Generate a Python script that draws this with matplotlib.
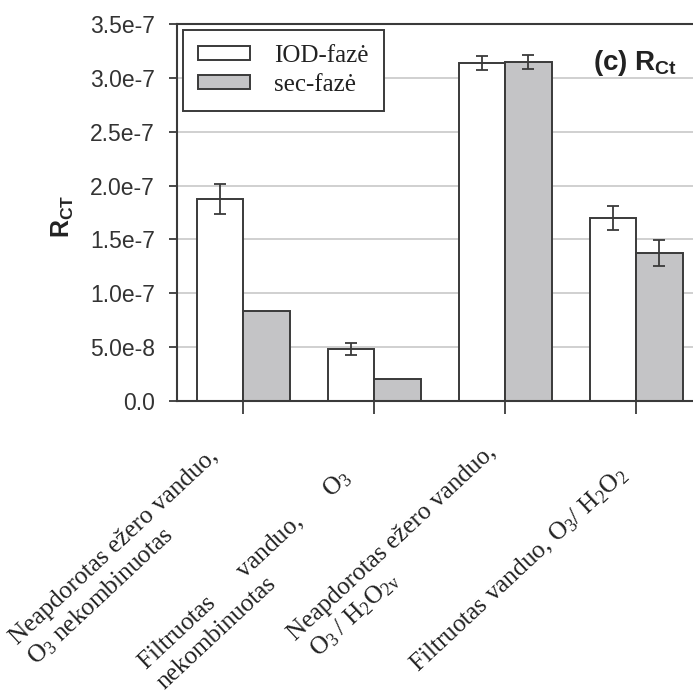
import matplotlib.pyplot as plt
import numpy as np
from matplotlib.transforms import ScaledTranslation

plt.rcParams['font.family'] = 'Liberation Sans'

# Duomenys
kategorijos = [
    "Neapdorotas ežero vanduo,\n$\\mathregular{O_3}$ nekombinuotas",
    "Filtruotas      vanduo,      $\\mathregular{O_3}$\nnekombinuotas",
    "Neapdorotas ežero vanduo,\n $\\mathregular{O_3\\,/\\;H_2O_{2v}}$",
    "Filtruotas vanduo, $\\mathregular{O_3/\\;H_2O_2}$",
]
iod_faze = [1.875e-7, 0.483e-7, 3.138e-7, 1.70e-7]
iod_err = [1.4e-8, 0.6e-8, 0.65e-8, 1.1e-8]
sec_faze = [0.836e-7, 0.204e-7, 3.147e-7, 1.374e-7]
sec_err = [0, 0, 0.65e-8, 1.2e-8]
y_ticks = [0.0, 5.0e-8, 1.0e-7, 1.5e-7, 2.0e-7, 2.5e-7, 3.0e-7, 3.5e-7]
y_tick_labels = ["0.0", "5.0e-8", "1.0e-7", "1.5e-7", "2.0e-7", "2.5e-7", "3.0e-7", "3.5e-7"]

# užrašų poslinkiai nuo padalos (px)
poslinkiai = [(-36, -44), (-34, -64), (-20, -40), (-20, -62)]

krastas = '#3a3a3a'
pilka = '#c4c4c6'

fig = plt.figure(figsize=(6.93, 6.93), dpi=100)
ax = fig.add_axes([177/693, (693-401)/693, 1 - 177/693, (401-24)/693])

x = np.arange(len(kategorijos))
w = 0.355
ax.bar(x - w/2, iod_faze, w, color='white', edgecolor=krastas, linewidth=1.4,
       label='IOD-fazė', zorder=2)
ax.bar(x + w/2, sec_faze, w, color=pilka, edgecolor=krastas, linewidth=1.4,
       label='sec-fazė', zorder=2)

# Paklaidos
ax.errorbar(x - w/2, iod_faze, yerr=iod_err, fmt='none', ecolor=krastas,
            elinewidth=1.3, capsize=4.5, capthick=1.3, zorder=3)
sec_idx = [i for i, e in enumerate(sec_err) if e > 0]
ax.errorbar(x[sec_idx] + w/2, [sec_faze[i] for i in sec_idx],
            yerr=[sec_err[i] for i in sec_idx], fmt='none', ecolor=krastas,
            elinewidth=1.3, capsize=4.5, capthick=1.3, zorder=3)

ax.set_xlim(-0.504, -0.504 + 516/131)
ax.set_ylim(0, 3.5e-7)
ax.set_yticks(y_ticks)
ax.set_yticklabels(y_tick_labels, fontsize=16.5, color='#333333')
ax.yaxis.grid(True, color='#c8c8c8', linewidth=1.2, zorder=0)
ax.set_axisbelow(True)

ax.set_xticks(x)
ax.set_xticklabels([])
for xi, tekstas, (dx, dy) in zip(x, kategorijos, poslinkiai):
    tr = ax.get_xaxis_transform() + ScaledTranslation(dx/100, dy/100, fig.dpi_scale_trans)
    ax.text(xi, 0, tekstas, transform=tr, rotation=43, ha='right', va='top',
            rotation_mode='anchor', multialignment='left',
            family='Liberation Serif', fontsize=18.2, color='#222222')

ax.tick_params(axis='x', length=9, width=1.3, color=krastas, direction='out')
ax.tick_params(axis='y', length=6, width=1.3, color=krastas, direction='out', pad=10)

for s in ['left', 'bottom', 'top']:
    ax.spines[s].set_color(krastas)
    ax.spines[s].set_linewidth(1.5)
ax.spines['right'].set_visible(False)

ax.set_ylabel('$\\mathregular{R_{CT}}$', fontsize=18, fontweight='bold', color='#222222')
ax.yaxis.set_label_coords(-0.195, 0.49)

ax.text(0.806, 0.878, '(c) $\\mathregular{R_{Ct}}$', transform=ax.transAxes,
        fontsize=20, fontweight='bold', color='#222222', ha='left', va='baseline')

leg = ax.legend(loc='upper left', bbox_to_anchor=(0.0116, 0.984), borderaxespad=0,
                fancybox=False, framealpha=1, edgecolor=krastas,
                prop={'family': 'Liberation Serif', 'size': 18},
                handlelength=2.1, handleheight=0.5, handletextpad=0.95,
                borderpad=0.6, labelspacing=0.28)
leg.get_frame().set_linewidth(1.4)
for t in leg.get_texts():
    t.set_color('#222222')

fig.savefig('out.png', dpi=100)
